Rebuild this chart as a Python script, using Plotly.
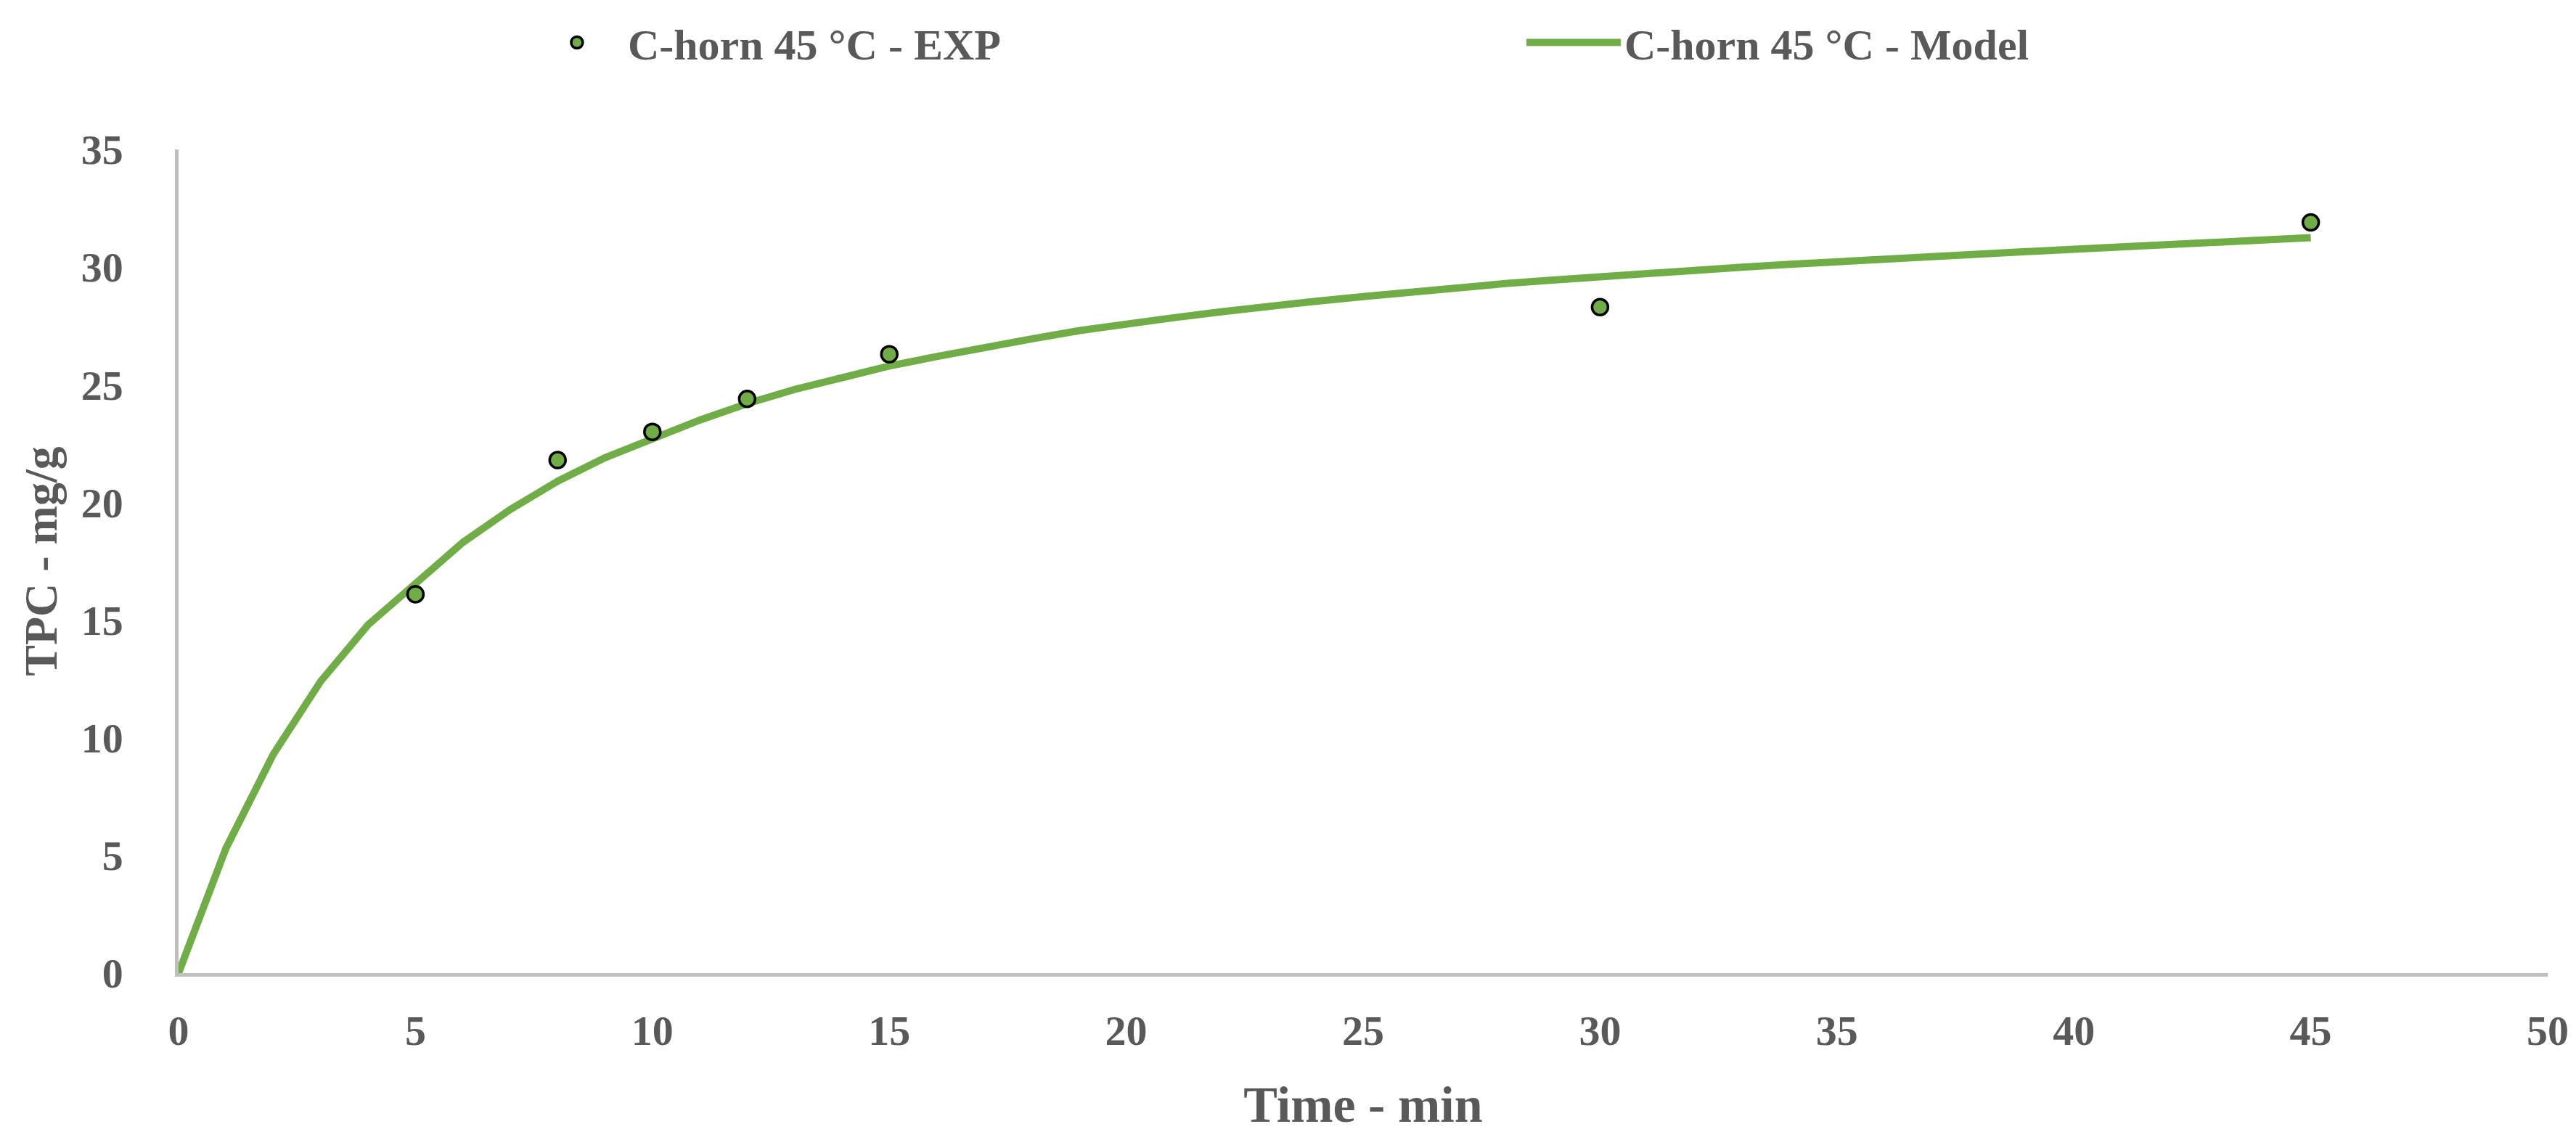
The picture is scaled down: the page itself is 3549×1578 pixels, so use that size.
import plotly.graph_objects as go

# Experimental data
exp_time = [5, 8, 10, 12, 15, 30, 45]
exp_tpc = [16.1, 21.8, 23.0, 24.4, 26.3, 28.3, 31.9]

# Model curve (read at every minute)
model_time = list(range(0, 46))
model_tpc = [0.0, 5.3, 9.3, 12.4, 14.8, 16.6, 18.3, 19.7, 20.9, 21.9,
             22.7, 23.5, 24.2, 24.8, 25.3, 25.8, 26.2, 26.6, 26.95, 27.3,
             27.6, 27.85, 28.1, 28.35, 28.55, 28.75, 28.95, 29.15, 29.3, 29.45,
             29.6, 29.75, 29.9, 30.0, 30.12, 30.24, 30.35, 30.46, 30.56, 30.66,
             30.76, 30.85, 30.94, 31.03, 31.12, 31.25]

x_ticks = [0, 5, 10, 15, 20, 25, 30, 35, 40, 45, 50]
y_ticks = [0, 5, 10, 15, 20, 25, 30, 35]

GREEN = "#70AD47"
TXT = "#595959"
AXIS = "#BFBFBF"
FONT = "Liberation Serif"

fig = go.Figure()
fig.add_trace(go.Scatter(
    x=model_time, y=model_tpc, mode="lines", name="<b>C-horn 45 °C - Model</b>",
    line=dict(color=GREEN, width=10), legendrank=2,
))
fig.add_trace(go.Scatter(
    x=exp_time, y=exp_tpc, mode="markers", name="<b>C-horn 45 °C - EXP</b>",
    marker=dict(size=22, color=GREEN, line=dict(color="black", width=3.5)),
    legendrank=1,
))

fig.update_layout(
    width=3549, height=1578,
    paper_bgcolor="white", plot_bgcolor="white",
    margin=dict(l=238, r=47, t=198, b=245, autoexpand=False),
    font=dict(family=FONT, color=TXT, size=58),
    legend=dict(
        orientation="h", x=0.202, xanchor="left", y=0.968, yanchor="middle",
        yref="container", xref="container",
        font=dict(size=60, color=TXT, family=FONT),
        entrywidth=1228, entrywidthmode="pixels", itemwidth=130,
    ),
    showlegend=True,
)

fig.update_xaxes(
    range=[0, 50], tickvals=x_ticks, ticktext=[f"<b>{v}</b>" for v in x_ticks],
    showline=True, linecolor=AXIS, linewidth=4.5, showgrid=False, zeroline=False,
    ticks="", ticklabelstandoff=25, automargin=False,
    tickfont=dict(size=58, color=TXT, family=FONT),
    title=dict(text="<b>Time - min</b>", font=dict(size=70, color=TXT, family=FONT), standoff=46),
)
fig.update_yaxes(
    range=[0, 35], tickvals=y_ticks, ticktext=[f"<b>{v}</b>" for v in y_ticks],
    showline=True, linecolor=AXIS, linewidth=4.5, showgrid=False, zeroline=False,
    ticks="", ticklabelstandoff=60, automargin=False,
    tickfont=dict(size=58, color=TXT, family=FONT),
    title=dict(text="<b>TPC - mg/g</b>", font=dict(size=64, color=TXT, family=FONT), standoff=14),
)

fig.write_html("out.html")
